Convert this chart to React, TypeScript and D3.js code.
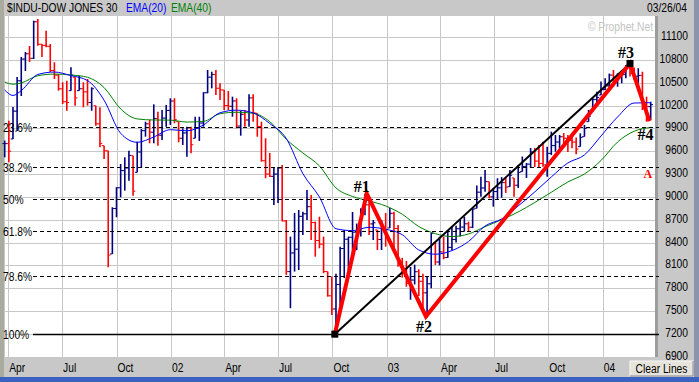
import React from "react";
import * as d3 from "d3";

const W = 699;
const H = 382;

// ---------- data ----------
const firstWeek = "2001-03-26"; // Monday of first weekly bar
const highs = [
  9740, 10001, 10181, 10575, 10837, 10903, 10982, 11314, 11336, 11008,
  11183, 11008, 10768, 10614, 10505, 10526, 10702, 10571, 10592, 10505,
  10548, 10440, 10198, 10177, 9673, 9607, 8864, 9127, 9432, 9520,
  9607, 9542, 9725, 9892, 9988, 10010, 10216, 10119, 10142, 10207,
  10295, 10295, 9988, 9901, 9922, 9922, 10053, 10053, 10374, 10667,
  10644, 10667, 10492, 10404, 10391, 10316, 10295, 10128, 10142, 10348,
  10348, 10098, 9988, 9770, 9577, 9380, 9393, 9419, 8697, 8478,
  8789, 8828, 8806, 9091, 9025, 8675, 8740, 8478, 8019, 7953,
  7990, 8346, 8566, 8478, 8802, 8650, 8850, 9043, 8960, 8697,
  8566, 8697, 8789, 8854, 8806, 8631, 8200, 8160, 8080, 8110,
  8050, 7990, 7950, 8530, 8395, 8478, 8478, 8543, 8609, 8620,
  8700, 8740, 8675, 8850, 9150, 9265, 9354, 9200, 9113, 9245,
  9260, 9249, 9354, 9249, 9420, 9530, 9446, 9643, 9643, 9682,
  9725, 9660, 9857, 9813, 9813, 9840, 9813, 9830, 9780, 9835,
  9945, 10141, 10295, 10382, 10514, 10558, 10620, 10667, 10623, 10623,
  10732, 10753, 10700, 10690, 10644, 10316, 10250,
];
const lows = [
  9520, 9455, 9761, 9866, 10325, 10654, 10772, 10811, 10986, 10837,
  10965, 10640, 10549, 10395, 10220, 10132, 10395, 10198, 10395, 10177,
  10198, 10132, 9935, 9652, 9498, 8076, 8251, 8733, 8995, 9082,
  9213, 9016, 9323, 9380, 9791, 9704, 9704, 9673, 9748, 9922,
  9945, 9967, 9717, 9682, 9528, 9573, 9770, 9734, 9922, 10361,
  10426, 10338, 10273, 10141, 10141, 10053, 9901, 9804, 9922, 9922,
  9988, 9791, 9463, 9245, 9262, 8894, 8920, 8680, 7975, 7538,
  8019, 8040, 8500, 8697, 8434, 8215, 8325, 7997, 7690, 7450,
  7197, 7559, 7935, 8040, 8264, 8300, 8480, 8760, 8500, 8434,
  8303, 8303, 8346, 8592, 8303, 8084, 7940, 7820, 7650, 7850,
  7700, 7540, 7416, 7800, 8106, 8100, 8180, 8200, 8300, 8400,
  8480, 8543, 8543, 8590, 8850, 9003, 9069, 8982, 8872, 8960,
  8990, 9052, 9134, 9003, 9118, 9331, 9249, 9380, 9393, 9380,
  9397, 9265, 9550, 9594, 9616, 9660, 9590, 9640, 9560, 9660,
  9791, 9988, 10119, 10207, 10338, 10404, 10404, 10447, 10447, 10492,
  10558, 10580, 10535, 10496, 10141, 9988, 10010,
];
const closes = [
  9700, 9600, 10126, 10525, 10810, 10880, 10820, 11300, 11005, 10990,
  10977, 10660, 10600, 10420, 10250, 10240, 10600, 10300, 10420, 10380,
  10240, 10420, 9960, 9700, 9605, 8236, 8848, 9120, 9345, 9380,
  9545, 9075, 9590, 9870, 9960, 9850, 10030, 9810, 10035, 10136,
  10259, 10015, 9770, 9840, 9907, 9685, 9904, 9970, 10368, 10572,
  10607, 10427, 10405, 10200, 10190, 10260, 9930, 10085, 10010, 10300,
  10105, 9925, 9475, 9300, 9270, 9300, 9379, 8684, 8019, 8264,
  8313, 8745, 8778, 8872, 8663, 8427, 8379, 8020, 7701, 7528,
  7850, 8322, 8444, 8470, 8537, 8579, 8804, 8896, 8645, 8660,
  8440, 8600, 8500, 8785, 8586, 8131, 8054, 7864, 7908, 8018,
  7891, 7740, 7859, 8522, 8145, 8277, 8203, 8337, 8440, 8582,
  8604, 8647, 8601, 8840, 9062, 9117, 9200, 9000, 9070, 9119,
  9188, 9128, 9284, 9153, 9321, 9400, 9430, 9590, 9470, 9440,
  9420, 9572, 9674, 9721, 9790, 9770, 9740, 9720, 9628, 9782,
  9900, 10060, 10278, 10305, 10409, 10458, 10600, 10530, 10590, 10605,
  10700, 10620, 10584, 10596, 10240, 10186, 10212,
];

// EMA readings (sampled at bar indices)
const emaIdx = [0, 2, 4, 8, 12, 16, 20, 24, 28, 32, 36, 40, 44, 48, 52, 56, 60, 64, 68, 72, 76, 80,
  84, 88, 92, 96, 100, 104, 108, 112, 116, 120, 124, 128, 132, 136, 140, 144, 148, 152, 156];
const ema20 = [10404, 10332, 10396, 10608, 10640, 10593, 10528, 10270, 9835, 9717, 9787, 9883,
  9868, 9945, 10105, 10139, 10103, 9964, 9767, 9306, 8999, 8582, 8557, 8601, 8575, 8504, 8303,
  8247, 8295, 8414, 8618, 8710, 8881, 9065, 9262, 9446, 9551, 9800, 10050, 10233, 10237];
const ema40 = [10509, 10480, 10496, 10591, 10613, 10601, 10571, 10436, 10155, 10024, 10010, 10008,
  9983, 9992, 10092, 10112, 10098, 9989, 9757, 9577, 9407, 9118, 9006, 8947, 8881, 8772, 8611,
  8517, 8479, 8513, 8609, 8700, 8802, 8927, 9061, 9196, 9301, 9478, 9721, 9862, 9912];

const priceTicks = [6900, 7200, 7500, 7800, 8100, 8400, 8700, 9000, 9300, 9600, 9900, 10200, 10500, 10800, 11100];
const quarterDates = ["2001-04-01", "2001-07-01", "2001-10-01", "2002-01-01", "2002-04-01", "2002-07-01",
  "2002-10-01", "2003-01-01", "2003-04-01", "2003-07-01", "2003-10-01", "2004-01-01"];
const quarterLabels = ["Apr", "Jul", "Oct", "02", "Apr", "Jul", "Oct", "03", "Apr", "Jul", "Oct", "04"];

const fibPcts = [0.236, 0.382, 0.5, 0.618, 0.786, 1];
const fibLabels = ["23.6%", "38.2%", "50%", "61.8%", "78.6%", "100%"];

const swingDates = ["2002-10-05", "2002-11-28", "2003-03-08", "2004-02-16", "2004-03-20"];
const swingValues = [7197, 9043, 7430, 10753, 9995];
const swingLabels = ["", "#1", "#2", "#3", "#4"];
const markA = { date: "2004-03-19", value: 9250, label: "A" };

// ---------- rendering ----------
const FONT = "'Liberation Sans', Arial, sans-serif";
const SERIF = "'Liberation Serif', 'Times New Roman', serif";
const NAVY = "#000080";
const RED = "#ff0000";

type NTProps = {
  x: number;
  y: number;
  anchor?: "start" | "middle" | "end";
  fill?: string;
  size?: number;
  children: React.ReactNode;
};

// narrow sans text (Arial Narrow look) via horizontal compression
function NText({ x, y, anchor = "start", fill = "#000", size = 12.5, children }: NTProps) {
  return (
    <text
      transform={`translate(${x},${y}) scale(0.82,1)`}
      fontFamily={FONT}
      fontSize={size}
      fill={fill}
      textAnchor={anchor}
    >
      {children}
    </text>
  );
}

export default function App() {
  const parse = d3.timeParse("%Y-%m-%d");
  const start = parse(firstWeek) as Date;
  const barDates = highs.map((_, i) => d3.timeWeek.offset(start, i));

  const x = d3.scaleTime().domain([barDates[0], barDates[barDates.length - 1]]).range([4.7, 650.7]);
  const y = d3.scaleLinear().domain([6900, 11100]).range([356.8, 37]);

  const plotL = 5, plotR = 655, plotT = 16, plotB = 357;

  const emaLine = d3
    .line<number>()
    .x((_, j) => x(barDates[emaIdx[j]]))
    .y((v) => y(v))
    .curve(d3.curveMonotoneX);

  const swingPts = swingDates.map((d, i) => [x(parse(d) as Date), y(swingValues[i])] as [number, number]);
  const swingLow = swingValues[0];
  const swingHigh = swingValues[3];

  const labelOffsets: [number, number][] = [[0, 0], [-5, -2], [-2, 16], [-4, -5], [-4, 19]];

  return (
    <svg
      width={W}
      height={H}
      viewBox={`0 0 ${W} ${H}`}
      style={{ position: "absolute", left: 0, top: 0, display: "block" }}
    >
      <rect x={0} y={0} width={W} height={H} fill="#c8c8c8" />
      <rect x={0} y={0} width={4} height={H} fill="#a9ab9f" />
      <rect x={694} y={0} width={5} height={H} fill="#8a94ac" />
      <rect x={0} y={377} width={W} height={5} fill="#3b62c0" />
      <rect x={plotL} y={plotT} width={plotR - plotL} height={plotB - plotT} fill="#ffffff" />
      <rect x={plotR} y={plotT} width={3} height={plotB - plotT} fill="#9c9c9c" />

      {/* header */}
      <NText x={7} y={12}>$INDU-DOW JONES 30</NText>
      <NText x={126} y={12} fill="#0000ff">EMA(20)</NText>
      <NText x={171} y={12} fill="#008000">EMA(40)</NText>
      <NText x={687} y={12} anchor="end">03/26/04</NText>

      {/* grid */}
      {priceTicks.map((t) => (
        <line key={"h" + t} x1={plotL} x2={plotR} y1={Math.round(y(t)) + 0.5} y2={Math.round(y(t)) + 0.5}
          stroke="#c8c8c8" strokeWidth={1} />
      ))}
      {quarterDates.map((d) => {
        const xx = Math.round(x(parse(d) as Date)) + 0.5;
        return <line key={"v" + d} x1={xx} x2={xx} y1={plotT} y2={plotB} stroke="#c8c8c8" strokeWidth={1} />;
      })}

      <NText x={653} y={31} anchor="end" fill="#c4c4c4">© Prophet.Net</NText>

      {/* bars */}
      {highs.map((h, i) => {
        const xx = x(barDates[i]);
        const prev = i > 0 ? closes[i - 1] : closes[i];
        const open = Math.min(h, Math.max(lows[i], prev));
        const col = i === 0 || closes[i] >= closes[i - 1] ? NAVY : RED;
        return (
          <g key={"b" + i} stroke={col}>
            <line x1={xx} x2={xx} y1={y(h)} y2={y(lows[i])} strokeWidth={1.6} />
            <line x1={xx - 2.3} x2={xx} y1={y(open)} y2={y(open)} strokeWidth={1} />
            <line x1={xx} x2={xx + 2.3} y1={y(closes[i])} y2={y(closes[i])} strokeWidth={1} />
          </g>
        );
      })}

      {/* EMAs */}
      <path d={emaLine(ema40) || ""} fill="none" stroke="#008000" strokeWidth={1} />
      <path d={emaLine(ema20) || ""} fill="none" stroke="#0000ff" strokeWidth={1} />

      {/* fib lines */}
      {fibPcts.map((p, i) => {
        const v = swingHigh - p * (swingHigh - swingLow);
        const yy = Math.round(y(v)) + 0.5;
        return (
          <g key={"f" + i}>
            <line x1={33} x2={659} y1={yy} y2={yy} stroke="#000"
              strokeWidth={p === 1 ? 1.4 : 1} strokeDasharray={p === 1 ? undefined : "4,3"} />
            <NText x={3} y={yy + 4.5}>{fibLabels[i]}</NText>
          </g>
        );
      })}

      {/* trend lines */}
      <line x1={swingPts[0][0]} y1={swingPts[0][1]} x2={swingPts[3][0]} y2={swingPts[3][1]}
        stroke="#000" strokeWidth={2} />
      <polyline points={swingPts.map((p) => p.join(",")).join(" ")} fill="none" stroke={RED}
        strokeWidth={4} strokeLinejoin="miter" strokeMiterlimit={10} />
      {[0, 3].map((i) => (
        <rect key={"sq" + i} x={swingPts[i][0] - 3.5} y={swingPts[i][1] - 3.5} width={7} height={7} fill="#000" />
      ))}
      {swingLabels.map((l, i) =>
        l ? (
          <text key={"l" + i} x={swingPts[i][0] + labelOffsets[i][0]} y={swingPts[i][1] + labelOffsets[i][1]}
            fontFamily={SERIF} fontWeight="bold" fontSize={16} textAnchor="middle" fill="#000">{l}</text>
        ) : null
      )}
      <text x={x(parse(markA.date) as Date) - 1} y={y(markA.value)} fontFamily={SERIF} fontWeight="bold"
        fontSize={12} textAnchor="middle" fill={RED}>{markA.label}</text>

      {/* right axis */}
      {priceTicks.map((t) => (
        <NText key={"yt" + t} x={688} y={y(t) + 3} anchor="end">{t}</NText>
      ))}

      {/* bottom axis */}
      {quarterDates.map((d, i) => (
        <NText key={"xt" + d} x={x(parse(d) as Date) + 1} y={372}>{quarterLabels[i]}</NText>
      ))}

      {/* button */}
      <rect x={630} y={361} width={63} height={15} fill="#e6e4da" stroke="#f8f8f8" strokeWidth={1} />
      <line x1={630} x2={693} y1={376} y2={376} stroke="#808080" />
      <line x1={693} x2={693} y1={361} y2={376} stroke="#808080" />
      <NText x={661.5} y={373} anchor="middle">Clear Lines</NText>
    </svg>
  );
}
